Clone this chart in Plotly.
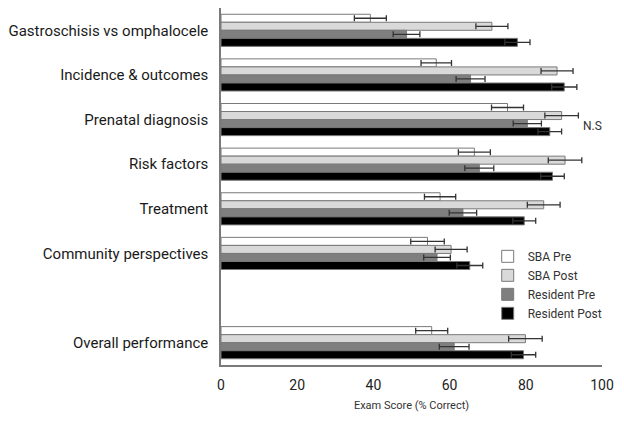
import plotly.graph_objects as go

categories = ["Gastroschisis vs omphalocele", "Incidence & outcomes", "Prenatal diagnosis",
              "Risk factors", "Treatment", "Community perspectives", "Overall performance"]
positions = [0, 1, 2, 3, 4, 5, 7]

series_names = ["SBA Pre", "SBA Post", "Resident Pre", "Resident Post"]
sba_pre = [39.2, 56.5, 75.2, 66.5, 57.5, 54.2, 55.3]
sba_pre_err = [4.2, 4.0, 4.2, 4.2, 4.1, 4.4, 4.2]
sba_post = [71.1, 88.2, 89.4, 90.3, 84.7, 60.4, 79.9]
sba_post_err = [4.2, 4.2, 4.4, 4.4, 4.3, 4.2, 4.4]
res_pre = [48.7, 65.5, 80.4, 67.8, 63.5, 56.7, 61.2]
res_pre_err = [3.5, 3.8, 3.7, 3.8, 3.6, 3.5, 3.9]
res_post = [77.8, 90.1, 86.3, 87.0, 79.6, 65.3, 79.4]
res_post_err = [3.3, 3.3, 3.1, 3.1, 3.0, 3.4, 3.2]

values = [sba_pre, sba_post, res_pre, res_post]
errors = [sba_pre_err, sba_post_err, res_pre_err, res_post_err]
colors = ["#ffffff", "#d9d9d9", "#7f7f7f", "#000000"]
x_ticks = [0, 20, 40, 60, 80, 100]

font_family = "Roboto, Liberation Sans, Arial, sans-serif"

fig = go.Figure()
for name, vals, errs, col in zip(series_names, values, errors, colors):
    fig.add_trace(go.Bar(
        y=positions, x=vals, name=name, orientation="h",
        marker=dict(color=col, line=dict(color="#7a7a7a", width=1)),
        error_x=dict(type="data", array=errs, visible=True, color="#333333",
                     thickness=1.3, width=3),
    ))

fig.add_annotation(x=94.5, y=2.15, xref="x", yref="y", text="N.S", showarrow=False,
                   xanchor="left", font=dict(size=12, color="#333333", family=font_family))

fig.update_layout(
    width=624, height=423,
    margin=dict(l=221, r=22, t=8, b=58, autoexpand=False),
    paper_bgcolor="white", plot_bgcolor="white",
    barmode="group", bargap=0.28, bargroupgap=0,
    font=dict(family=font_family, color="#222222"),
    legend=dict(x=0.70, y=0.345, xanchor="left", yanchor="top",
                font=dict(size=12, color="#333333"), bgcolor="rgba(0,0,0,0)",
                traceorder="normal", itemwidth=30),
    showlegend=True,
)
fig.update_xaxes(range=[0, 100], tickvals=x_ticks, showgrid=False, zeroline=False,
                 showline=True, linecolor="#7a7a7a", linewidth=1.5, ticks="",
                 ticklabelstandoff=6,
                 tickfont=dict(size=14, color="#222222"),
                 title=dict(text="Exam Score (% Correct)", font=dict(size=11, color="#333333"),
                            standoff=10))
fig.update_yaxes(range=[7.5, -0.5], tickvals=positions, ticktext=categories,
                 showgrid=False, zeroline=False, showline=True, linecolor="#7a7a7a",
                 linewidth=1.5, ticks="", ticklabelstandoff=8,
                 tickfont=dict(size=15, color="#1a1a1a"))

fig.write_html("out.html")
